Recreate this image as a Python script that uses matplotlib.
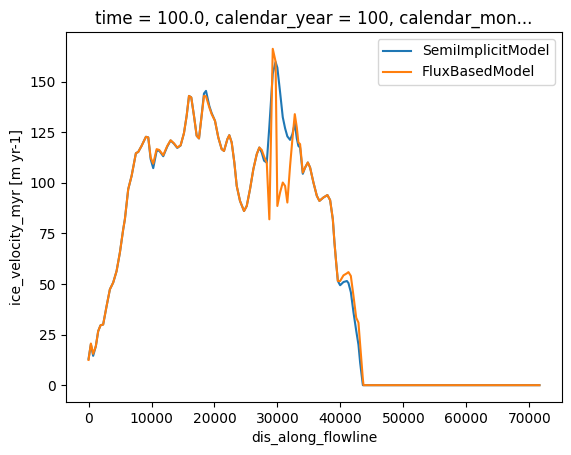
import matplotlib
matplotlib.use('Agg')
import matplotlib.pyplot as plt

# distance along flowline (m)
dis = [0, 370, 730, 1160, 1530, 1900, 2320, 2860, 3390, 3910, 4450, 4980, 5500,
       5770, 6300, 6840, 7520, 7890, 8420, 9110, 9480, 9860, 10270, 10810, 11220,
       11860, 12500, 13030, 13560, 14090, 14620, 15150, 15580, 15950, 16310, 16740,
       17170, 17540, 17960, 18330, 18650, 19180, 19550, 20080, 20600, 21140, 21510,
       22040, 22350, 22730, 23150, 23530, 24050, 24690, 25120, 25640, 26170, 26710,
       27120, 27500, 27870, 28300, 28710, 29250, 29700, 29980, 30410, 30840, 31210,
       31570, 32000, 32370, 32750, 33070, 33320, 33590, 34020, 34390, 34820, 35180,
       35710, 36250, 36660, 37300, 37930, 38360, 38790, 39050, 39320, 39590, 39950,
       40480, 41020, 41270, 41650, 42070, 42500, 42860, 43130, 43560, 43660, 50000,
       60000, 71600]

semi_implicit = [13.0, 20.2, 14.5, 19.3, 26.7, 29.6, 30.0, 39.0, 47.4, 50.7, 56.4, 65.6, 77.0,
                 82.0, 96.9, 103.5, 114.7, 115.3, 118.3, 122.8, 122.5, 111.8, 107.3, 115.8, 116.0,
                 113.2, 118.0, 121.0, 119.4, 117.3, 118.5, 124.6, 133.2, 143.0, 142.3, 133.2,
                 123.3, 122.0, 133.5, 144.2, 145.5, 138.0, 134.5, 130.7, 122.5, 116.7, 115.8,
                 121.6, 123.6, 120.0, 110.1, 98.5, 91.1, 86.1, 88.6, 96.9, 106.8, 114.2,
                 117.5, 115.0, 111.0, 110.0, 128.0, 154.0, 159.8, 157.0, 145.0, 132.5, 127.0,
                 123.0, 121.3, 124.1, 129.5, 122.0, 118.3, 117.5, 104.5, 107.6, 110.1, 107.6,
                 100.2, 93.6, 91.1, 92.8, 94.0, 91.5, 82.0, 70.5, 60.6, 51.5, 49.4,
                 51.0, 51.5, 50.5, 46.0, 36.0, 27.0, 20.0, 11.0, 0.0, 0.0, 0.0,
                 0.0, 0.0]

flux_based = [12.5, 20.6, 15.5, 19.3, 26.7, 29.6, 30.0, 39.0, 47.4, 50.7, 56.4, 65.6, 77.0,
              82.0, 96.9, 103.5, 114.7, 115.3, 118.3, 122.8, 122.5, 112.6, 109.5, 116.7, 116.3,
              113.7, 118.3, 121.1, 119.6, 117.5, 118.6, 124.6, 133.2, 143.0, 142.3, 133.2,
              123.3, 122.0, 133.2, 143.0, 142.8, 137.3, 134.0, 130.7, 122.5, 116.7, 115.8,
              121.6, 123.6, 120.0, 110.1, 98.5, 91.1, 86.1, 88.6, 96.9, 106.8, 114.2,
              117.5, 116.3, 113.1, 110.0, 82.0, 166.3, 160.0, 88.6, 95.2, 100.2, 98.5,
              90.3, 108.4, 121.6, 134.0, 127.4, 120.0, 119.2, 105.1, 107.6, 110.1, 107.6,
              100.2, 93.6, 91.1, 92.8, 94.0, 91.5, 82.0, 70.5, 60.6, 51.5, 51.5,
              54.3, 55.3, 55.9, 54.0, 44.1, 33.4, 30.9, 20.0, 3.0, 0.0, 0.0,
              0.0, 0.0]

fig = plt.figure(figsize=(5.71, 4.55), dpi=100)
ax = fig.add_axes([66 / 571, 53 / 455, 496 / 571, 370 / 455])

ax.plot(dis, semi_implicit, label='SemiImplicitModel')
ax.plot(dis, flux_based, label='FluxBasedModel')

ax.set_xlabel('dis_along_flowline')
ax.set_ylabel('ice_velocity_myr [m yr-1]')
ax.set_title('time = 100.0, calendar_year = 100, calendar_mon...')
ax.legend(loc='upper right')

fig.savefig('out.png', dpi=100)
